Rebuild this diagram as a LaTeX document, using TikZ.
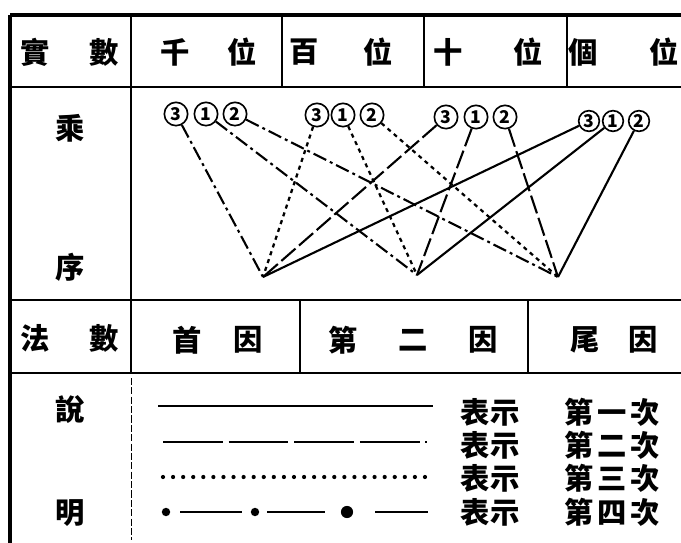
\documentclass[tikz,border=0pt]{standalone}
\usepackage{fontspec}
\setmainfont{Noto Sans CJK TC}
\usetikzlibrary{calc}

\begin{document}
\begin{tikzpicture}[x=0.03cm,y=-0.03cm,
        hanzi/.style={inner sep=0pt,font=\fontsize{25}{25}\selectfont\bfseries},
        note/.style={inner sep=0pt,font=\fontsize{25}{25}\selectfont\bfseries},
        digit/.style={draw,circle,line width=1.4pt,minimum size=0.7cm,inner sep=0pt,font=\fontsize{15}{15}\selectfont\bfseries},
        rule/.style={line width=1.4pt},
        border/.style={line width=2.6pt},
        ordone/.style={line width=1.8pt},
        ordtwo/.style={line width=1.8pt,dash pattern=on 16pt off 4pt},
        ordthree/.style={line width=1.9pt,dash pattern=on 3.5pt off 3.5pt},
        ordfour/.style={line width=1.8pt,dash pattern=on 12pt off 3.5pt on 2.5pt off 3.5pt}
      ]
      \useasboundingbox (0,0) rectangle (681,543);

      % frame of the table
      \draw[border] (10,15) -- (681,15);
      \draw[border] (10,15) -- (10,543);
      \draw[rule] (10,87) -- (681,87);
      \draw[rule] (10,300) -- (681,300);
      \draw[rule] (10,373) -- (681,373);
      \draw[rule] (131,15) -- (131,373);
      \draw[line width=0.8pt,dash pattern=on 6pt off 2pt] (131,378) -- (131,540);
      \draw[rule] (282,15) -- (282,87);
      \draw[rule] (424,15) -- (424,87);
      \draw[rule] (567,15) -- (567,87);
      \draw[rule] (300,300) -- (300,373);
      \draw[rule] (528,300) -- (528,373);

      % header row
      \node[hanzi] (shi) at (35,52) {實};
      \node[hanzi] (shu) at (104,52) {數};
      \node[hanzi] (qian) at (175,52) {千};
      \node[hanzi] (qianwei) at (242,52) {位};
      \node[hanzi] (bai) at (304,52) {百};
      \node[hanzi] (baiwei) at (378,52) {位};
      \node[hanzi] (shishu) at (448,52) {十};
      \node[hanzi] (shiwei) at (528,52) {位};
      \node[hanzi] (ge) at (583,52) {個};
      \node[hanzi] (gewei) at (664,52) {位};

      % left column
      \node[hanzi] (cheng) at (70,128) {乘};
      \node[hanzi] (xu) at (70,267) {序};
      \node[hanzi] (fa) at (35,338) {法};
      \node[hanzi] (fashu) at (104,338) {數};
      \node[hanzi] (shuo) at (70,410) {說};
      \node[hanzi] (ming) at (70,513) {明};

      % multiplier row
      \node[hanzi] (shou) at (187,340) {首};
      \node[hanzi] (shouyin) at (248,340) {因};
      \node[hanzi] (di) at (343,340) {第};
      \node[hanzi] (er) at (413,340) {二};
      \node[hanzi] (eryin) at (483,340) {因};
      \node[hanzi] (wei) at (585,340) {尾};
      \node[hanzi] (weiyin) at (643,340) {因};

      % circled digits
      \node[digit] (a3) at (176,114) {3};
      \node[digit] (a1) at (206,114) {1};
      \node[digit] (a2) at (235,114) {2};
      \node[digit] (b3) at (317,115) {3};
      \node[digit] (b1) at (343,115) {1};
      \node[digit] (b2) at (372,115) {2};
      \node[digit] (c3) at (446,117) {3};
      \node[digit] (c1) at (476,117) {1};
      \node[digit] (c2) at (505,117) {2};
      \node[digit,minimum size=0.62cm] (d3) at (589,121) {3};
      \node[digit,minimum size=0.62cm] (d1) at (613,121) {1};
      \node[digit,minimum size=0.62cm] (d2) at (639,121) {2};

      \coordinate (p1) at (263,277);
      \coordinate (p2) at (417,275);
      \coordinate (p3) at (558,277);

      % order of multiplication
      \draw[ordone] (d3) -- (p1);
      \draw[ordone] (d1) -- (p2);
      \draw[ordone] (d2) -- (p3);
      \draw[ordtwo] (c3) -- (p1);
      \draw[ordtwo] (c1) -- (p2);
      \draw[ordtwo] (c2) -- (p3);
      \draw[ordthree] (b3) -- (p1);
      \draw[ordthree] (b1) -- (p2);
      \draw[ordthree] (b2) -- (p3);
      \draw[ordfour] (a3) -- (p1);
      \draw[ordfour] (a1) -- (p2);
      \draw[ordfour] (a2) -- (p3);

      % legend
      \draw[ordone] (158,406) -- (433,406);
      \draw[ordtwo,dash pattern=on 51pt off 5pt] (163,442) -- (427,442);
      \draw[line width=3.6pt,line cap=round,dash pattern=on 0pt off 8.6pt] (163,477) -- (430,477);
      \draw[ordone] (180,512) -- (242,512) (267,512) -- (325,512) (375,512) -- (428,512);
      \fill (166,512) circle (3.6pt);
      \fill (255,512) circle (3.6pt);
      \fill (347,512) circle (5.2pt);

      \node[note] (biao1) at (490,412) {表示};
      \node[note] (biao2) at (490,445) {表示};
      \node[note] (biao3) at (490,478) {表示};
      \node[note] (biao4) at (490,512) {表示};
      \node[note] (ci1) at (612,412) {第\kern3pt 一\kern3pt 次};
      \node[note] (ci2) at (612,445) {第\kern3pt 二\kern3pt 次};
      \node[note] (ci3) at (612,478) {第\kern3pt 三\kern3pt 次};
      \node[note] (ci4) at (612,512) {第\kern3pt 四\kern3pt 次};
    \end{tikzpicture}
\end{document}
